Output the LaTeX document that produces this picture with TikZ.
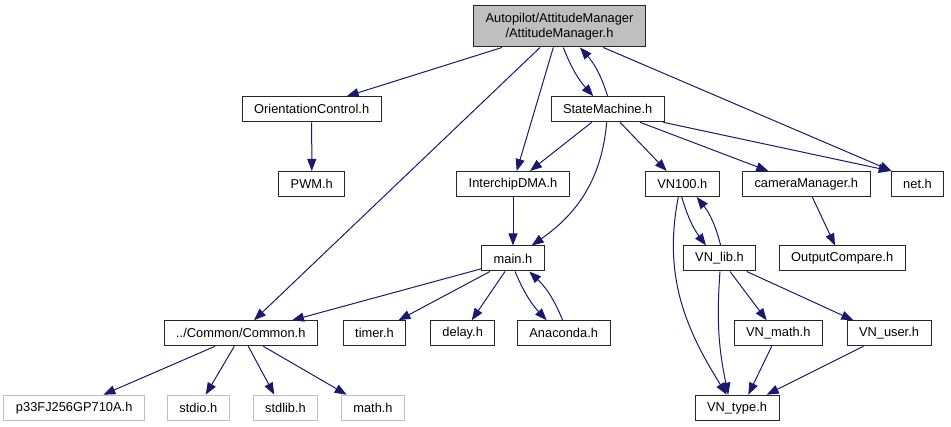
\documentclass[tikz,border=0pt]{standalone}
\usepackage{fontspec}
\setmainfont{Liberation Sans}
\usetikzlibrary{arrows.meta}
\definecolor{incblue}{HTML}{191970}
\definecolor{boxgray}{HTML}{BFBFBF}

\begin{document}
\begin{tikzpicture}[x=1pt, y=-1pt,
    filebox/.style={draw=black!85, line width=1pt, inner xsep=12pt, inner ysep=0pt,
      minimum height=25pt, font=\fontsize{12.85}{15}\selectfont},
    extbox/.style={filebox, draw=boxgray},
    rootbox/.style={filebox, fill=boxgray, align=center, minimum height=41pt},
    incl/.style={draw=incblue, line width=1pt, -{Triangle[length=12pt, width=9pt]}}]
    \useasboundingbox (0,0) rectangle (951,427);
    % files
    \node[rootbox] (root) at (559.5,26.5) {Autopilot/AttitudeManager\\/AttitudeManager.h};
    \node[filebox] (orient) at (311.7,109.3) {OrientationControl.h};
    \node[filebox] (sm) at (607.7,109.3) {StateMachine.h};
    \node[filebox] (pwm) at (311.8,184) {PWM.h};
    \node[filebox] (dma) at (513,184) {InterchipDMA.h};
    \node[filebox] (vn100) at (682.3,184) {VN100.h};
    \node[filebox] (cam) at (806.3,184) {cameraManager.h};
    \node[filebox] (net) at (917.5,184) {net.h};
    \node[filebox] (mainh) at (513,258.5) {main.h};
    \node[filebox] (vnlib) at (719.5,258.5) {VN\_lib.h};
    \node[filebox] (outc) at (842.2,258.5) {OutputCompare.h};
    \node[filebox] (common) at (240.8,333.3) {../Common/Common.h};
    \node[filebox] (timer) at (374.5,333.3) {timer.h};
    \node[filebox] (delay) at (462.7,333.3) {delay.h};
    \node[filebox] (anac) at (563.7,333.3) {Anaconda.h};
    \node[filebox] (vnmath) at (778.3,333.3) {VN\_math.h};
    \node[filebox] (vnuser) at (889,333.3) {VN\_user.h};
    \node[extbox] (p33) at (74.2,407.7) {p33FJ256GP710A.h};
    \node[extbox] (stdio) at (198.3,407.7) {stdio.h};
    \node[extbox] (stdlib) at (285.5,407.7) {stdlib.h};
    \node[extbox] (math) at (373,407.7) {math.h};
    \node[filebox] (vntype) at (737,407.7) {VN\_type.h};
    % includes of the root file
    \draw[incl] ([xshift=-57.5pt]root.south) -- ([xshift=35pt]orient.north);
    \draw[incl] ([xshift=-19.5pt]root.south) -- ([xshift=13.2pt]common.north);
    \draw[incl] ([xshift=-6.2pt]root.south) -- ([xshift=3.7pt]dma.north);
    \draw[incl] ([xshift=3.8pt]root.south) to[bend right=10] ([xshift=-14.4pt]sm.north);
    \draw[incl] (sm.north) to[bend right=12] ([xshift=20.5pt]root.south);
    \draw[incl] ([xshift=43.8pt]root.south) -- ([xshift=1pt]net.north west);
    \draw[incl] (orient) -- (pwm);
    % StateMachine.h
    \draw[incl] ([xshift=-16pt]sm.south) -- ([xshift=17pt]dma.north);
    \draw[incl] ([xshift=-1pt]sm.south) to[out=-95, in=35] ([xshift=18.7pt]mainh.north);
    \draw[incl] ([xshift=12.3pt]sm.south) -- ([xshift=-15.6pt]vn100.north);
    \draw[incl] ([xshift=32.3pt]sm.south) -- ([xshift=-38pt]cam.north);
    \draw[incl] ([xshift=55.6pt]sm.south) -- (net.north west);
    \draw[incl] (dma) -- (mainh);
    \draw[incl] ([xshift=6pt]cam.south) -- ([xshift=-7.2pt]outc.north);
    % main.h
    \draw[incl] ([yshift=2.7pt]mainh.south west) -- ([xshift=51.2pt]common.north);
    \draw[incl] ([xshift=-23pt]mainh.south) -- ([xshift=24pt]timer.north);
    \draw[incl] ([xshift=-8pt]mainh.south) -- ([xshift=9pt]delay.north);
    \draw[incl] ([xshift=2pt]mainh.south) to[bend right=10] ([xshift=-17pt]anac.north);
    \draw[incl] ([xshift=-1pt]anac.north) to[bend right=12] ([xshift=16.3pt]mainh.south);
    % VN100 family
    \draw[incl] ([xshift=-0.6pt]vn100.south) to[bend right=10] ([xshift=-13.5pt]vnlib.north);
    \draw[incl] ([xshift=1.2pt]vnlib.north) to[bend right=12] ([xshift=14.4pt]vn100.south);
    \draw[incl] ([xshift=-4pt]vn100.south) to[out=-101, in=122] ([xshift=-10.3pt]vntype.north);
    \draw[incl] ([xshift=0.5pt]vnlib.south) to[bend right=8] ([xshift=-8.7pt]vntype.north);
    \draw[incl] ([xshift=10.5pt]vnlib.south) -- ([xshift=-11.6pt]vnmath.north);
    \draw[incl] ([xshift=27.2pt]vnlib.south) -- ([xshift=-35.7pt]vnuser.north);
    \draw[incl] ([xshift=-6.6pt]vnmath.south) -- ([xshift=11.3pt]vntype.north);
    \draw[incl] ([xshift=-25.7pt]vnuser.south) -- ([xshift=29.7pt]vntype.north);
    % Common.h
    \draw[incl] ([xshift=-25.8pt]common.south) -- ([xshift=29.1pt]p33.north);
    \draw[incl] ([xshift=-6.5pt]common.south) -- ([xshift=7.4pt]stdio.north);
    \draw[incl] ([xshift=7.5pt]common.south) -- ([xshift=-11.2pt]stdlib.north);
    \draw[incl] ([xshift=22.5pt]common.south) -- ([xshift=-26.3pt]math.north);
\end{tikzpicture}
\end{document}
